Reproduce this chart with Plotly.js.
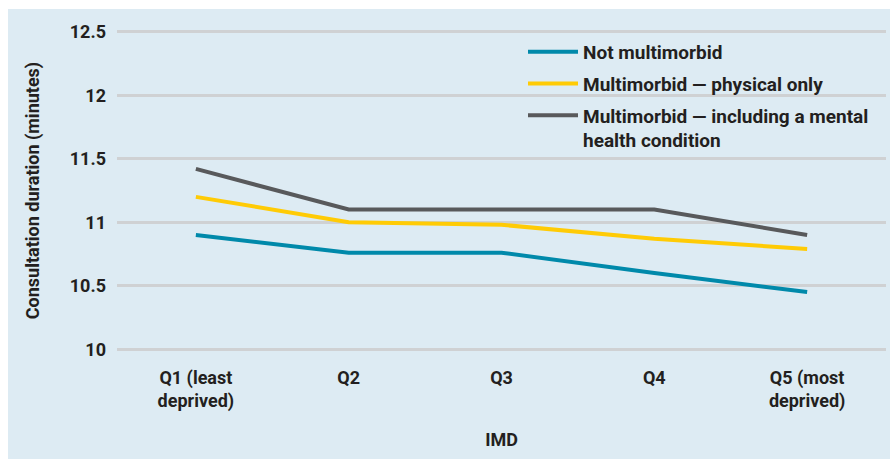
<!DOCTYPE html>
<html><head><meta charset="utf-8">
<script src="https://cdn.plot.ly/plotly-3.0.1.min.js"></script>
<style>html,body{margin:0;padding:0;background:#fff}</style>
</head><body>
<div id="chart" style="width:890px;height:459px"></div>
<script>
var categories = ['Q1 (least<br>deprived)', 'Q2', 'Q3', 'Q4', 'Q5 (most<br>deprived)'];
var notMultimorbid = [10.90, 10.76, 10.76, 10.60, 10.45];
var physicalOnly = [11.20, 11.00, 10.98, 10.87, 10.79];
var mentalIncl = [11.42, 11.10, 11.10, 11.10, 10.90];
var seriesNames = ['Not multimorbid', 'Multimorbid \u2014 physical only', 'Multimorbid \u2014 including a mental<br>health condition'];
var yTicks = [10, 10.5, 11, 11.5, 12, 12.5];
var yTickText = ['10', '10.5', '11', '11.5', '12', '12.5'];

var colors = ['#0089aa', '#ffcb05', '#58595b'];
var FONT = 'Roboto, "Open Sans", sans-serif';
var TXT = '#231f20';
var data = [notMultimorbid, physicalOnly, mentalIncl].map(function (v, i) {
  return {
    x: categories, y: v, type: 'scatter', mode: 'lines',
    name: seriesNames[i], legendgroup: 'g' + i,
    line: {color: colors[i], width: 4}
  };
});

var L = 117, R = 886, T = 28, B = 353;
var pw = R - L, ph = B - T;
function px(x) { return (x - L) / pw; }
function py(y) { return (B - y) / ph; }

var layout = {
  width: 890, height: 459,
  margin: {l: L, r: 890 - R, t: T, b: 459 - B, pad: 0},
  paper_bgcolor: '#ffffff', plot_bgcolor: 'rgba(0,0,0,0)',
  font: {family: FONT, color: TXT, size: 18, weight: 700},
  showlegend: true,
  legend: {
    x: px(523), y: py(33), xanchor: 'left', yanchor: 'top',
    bgcolor: 'rgba(0,0,0,0)', traceorder: 'grouped', tracegroupgap: 4,
    valign: 'top', itemwidth: 50,
    font: {family: FONT, size: 19, color: TXT, weight: 700}
  },
  xaxis: {
    type: 'category', range: [-0.516, 4.516],
    showgrid: false, zeroline: false, showline: false, ticks: '',
    tickfont: {family: FONT, size: 18, color: TXT, weight: 700},
    ticklabelstandoff: 12,
    title: {text: 'IMD', standoff: 21, font: {family: FONT, size: 18, color: TXT, weight: 700}}
  },
  yaxis: {
    range: [9.97, 12.53], tickvals: yTicks, ticktext: yTickText,
    showgrid: true, gridcolor: '#cfd1d3', gridwidth: 3,
    zeroline: false, showline: false, ticks: '',
    ticklabelstandoff: 10,
    tickfont: {family: FONT, size: 18, color: TXT, weight: 700},
    title: {text: 'Consultation duration (minutes)', standoff: 25, font: {family: FONT, size: 18, color: TXT, weight: 700}}
  },
  shapes: [{
    type: 'rect', xref: 'paper', yref: 'paper', layer: 'below',
    x0: px(8), x1: px(890), y0: py(9), y1: py(459),
    fillcolor: '#ddebf3', line: {width: 0}
  }]
};
Plotly.newPlot('chart', data, layout, {displayModeBar: false, staticPlot: true});
</script>
</body></html>
